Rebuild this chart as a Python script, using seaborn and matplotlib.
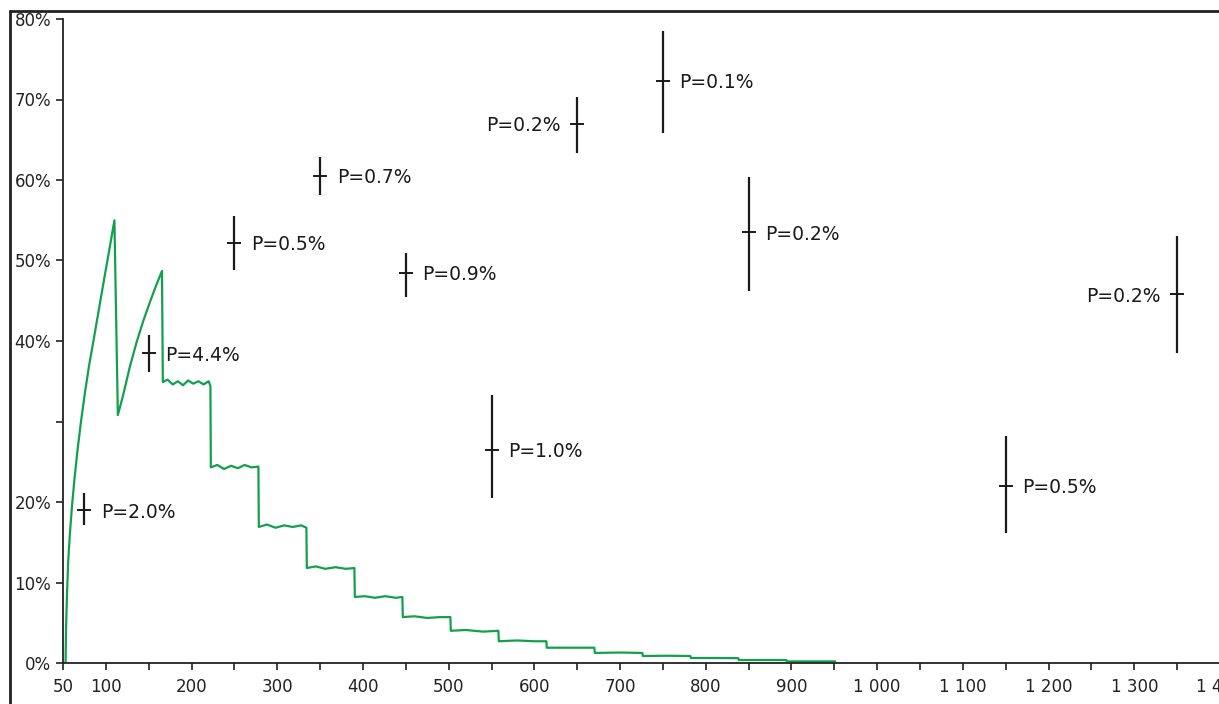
import matplotlib
matplotlib.use("Agg")
import matplotlib.pyplot as plt
from matplotlib.lines import Line2D
import seaborn as sns
import pandas as pd

# ---------------- data ----------------
# measured points (x, centre %, low %, high %, label, side)
pt_x = [75, 150, 250, 350, 450, 550, 650, 750, 850, 1150, 1350]
pt_y = [19.0, 38.5, 52.2, 60.5, 48.5, 26.5, 67.0, 72.3, 53.5, 22.0, 45.8]
pt_lo = [17.1, 36.1, 48.8, 58.1, 45.5, 20.5, 63.4, 65.8, 46.2, 16.1, 38.5]
pt_hi = [21.1, 40.7, 55.5, 62.9, 50.9, 33.3, 70.3, 78.5, 60.4, 28.2, 53.0]
pt_labels = ["P=2.0%", "P=4.4%", "P=0.5%", "P=0.7%", "P=0.9%", "P=1.0%",
             "P=0.2%", "P=0.1%", "P=0.2%", "P=0.5%", "P=0.2%"]
pt_side = ["right", "right", "right", "right", "right", "right",
           "left", "right", "right", "right", "left"]

# green curve
curve_x = [53, 53.5, 54.5, 56, 58, 60.5, 63.5, 67, 71, 75.5, 80.5, 86, 92,
           98.5, 104, 110,
           114, 120, 128, 136, 144, 152, 159, 165.5,
           166.5, 172, 178, 184, 190, 196, 202, 208, 214, 220, 222,
           222.5, 230, 238, 246, 254, 262, 270, 278,
           278.5, 288, 298, 308, 318, 328, 334,
           334.5, 345, 356, 368, 380, 390,
           390.5, 402, 414, 426, 438, 446,
           446.5, 460, 475, 490, 502,
           502.5, 520, 540, 558,
           558.5, 580, 600, 614,
           614.5, 640, 670,
           670.5, 700, 726,
           726.5, 755, 782,
           782.5, 810, 838,
           838.5, 865, 894,
           894.5, 920, 951]
curve_y = [0, 4, 8, 12.5, 16, 19.5, 23, 26.5, 30, 33.5, 37, 40.3, 44.0,
           48.0, 51.3, 55,
           30.8, 33.2, 36.8, 39.9, 42.6, 45.0, 47.0, 48.7,
           34.9, 35.2, 34.6, 35.0, 34.5, 35.1, 34.7, 35.0, 34.6, 35.0, 34.4,
           24.3, 24.6, 24.1, 24.5, 24.2, 24.6, 24.3, 24.4,
           16.9, 17.2, 16.8, 17.1, 16.9, 17.1, 16.8,
           11.8, 12.0, 11.7, 11.9, 11.7, 11.8,
           8.2, 8.3, 8.1, 8.3, 8.1, 8.2,
           5.7, 5.8, 5.6, 5.7, 5.7,
           4.0, 4.1, 3.9, 4.0,
           2.7, 2.8, 2.7, 2.7,
           1.9, 1.9, 1.9,
           1.25, 1.3, 1.25,
           0.87, 0.9, 0.87,
           0.62, 0.62, 0.6,
           0.37, 0.37, 0.37,
           0.2, 0.2, 0.2]

x_major = [50] + list(range(100, 1401, 100))
x_minor = list(range(150, 1400, 100))
x_labels = ["50", "100", "200", "300", "400", "500", "600", "700", "800",
            "900", "1 000", "1 100", "1 200", "1 300", "1 400"]
y_ticks = [0, 10, 20, 30, 40, 50, 60, 70, 80]
y_labels = ["0%", "10%", "20%", "", "40%", "50%", "60%", "70%", "80%"]

# ---------------- figure ----------------
sns.set_style("ticks")
plt.rcParams["font.family"] = ["DejaVu Sans"]

W, H = 1219, 704
fig = plt.figure(figsize=(W / 100, H / 100), dpi=100)
ax = fig.add_axes([63 / W, (H - 663) / H, (1220 - 63) / W, (663 - 19) / H])
ax.set_facecolor("white")

green = "#13a04c"
curve_df = pd.DataFrame({"x": curve_x, "y": curve_y})
sns.lineplot(data=curve_df, x="x", y="y", estimator=None, sort=False,
             color=green, linewidth=1.6, ax=ax)

pts = pd.DataFrame({"x": pt_x, "y": pt_y, "lo": pt_lo, "hi": pt_hi})
ax.vlines(pts["x"], pts["lo"], pts["hi"], color="#1a1a1a", linewidth=1.6, zorder=3)
sns.scatterplot(data=pts, x="x", y="y", marker="_", s=110, color="#1a1a1a",
                linewidth=1.4, ax=ax, zorder=4)

for xv, yv, lab, side in zip(pt_x, pt_y, pt_labels, pt_side):
    off = 12 if side == "right" else -12
    ax.annotate(lab, (xv, yv), xytext=(off, 0), textcoords="offset points",
                ha="left" if side == "right" else "right",
                va="center_baseline", fontsize=13.5, color="#1a1a1a")

ax.set_xlim(50, 1400)
ax.set_ylim(0, 80)
ax.set_xticks(x_major)
ax.set_xticklabels(x_labels)
ax.set_xticks(x_minor, minor=True)
ax.set_yticks(y_ticks)
ax.set_yticklabels(y_labels)
ax.tick_params(axis="both", which="both", direction="out", length=5, width=1.2,
               colors="#222222", labelsize=12)
ax.tick_params(axis="x", which="both", pad=6)
ax.set_xlabel("")
ax.set_ylabel("")
for s in ["top", "right"]:
    ax.spines[s].set_visible(False)
for s in ["left", "bottom"]:
    ax.spines[s].set_color("#222222")
    ax.spines[s].set_linewidth(1.3)

# outer frame (top and left edges visible)
fig.add_artist(Line2D([10 / W, 1.0], [1 - 11 / H, 1 - 11 / H],
                      transform=fig.transFigure, color="#222222", linewidth=2))
fig.add_artist(Line2D([10 / W, 10 / W], [0.0, 1 - 11 / H],
                      transform=fig.transFigure, color="#222222", linewidth=2))

fig.savefig("out.png", dpi=100)
